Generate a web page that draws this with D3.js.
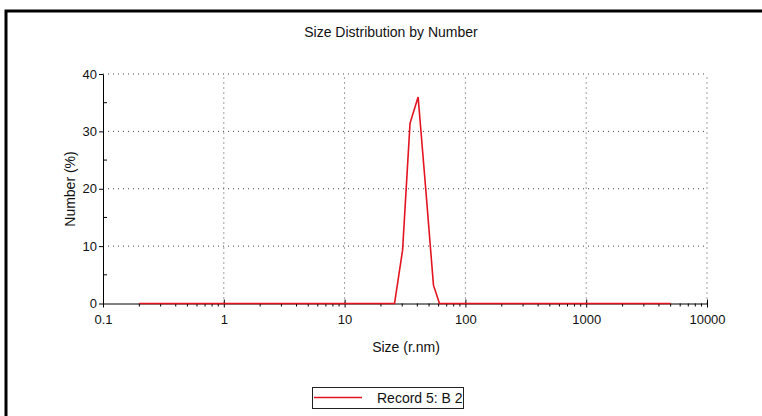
<!DOCTYPE html>
<html>
<head>
<meta charset="utf-8">
<script src="https://cdn.jsdelivr.net/npm/d3@7/dist/d3.min.js"></script>
<style>
  html, body { margin: 0; padding: 0; background: #fff; }
  svg { display: block; }
  text { font-family: "Liberation Sans", Arial, sans-serif; fill: #111; }
</style>
</head>
<body>
<svg id="chart" width="762" height="416"></svg>
<script>
// ---- data ----
const titleText = "Size Distribution by Number";
const xLabelText = "Size (r.nm)";
const yLabelText = "Number (%)";
const seriesName = "Record 5: B 2";
const sizes   = [0.2, 25.9, 30.2, 34.8, 40.6, 47.1, 54.4, 61.0, 5000];
const numbers = [0,   0,    9.3,  31.4, 36.0, 19.6, 3.2,  0,    0];
const xTickValues = [0.1, 1, 10, 100, 1000, 10000];
const xTickLabels = ["0.1", "1", "10", "100", "1000", "10000"];
const yTickValues = [0, 10, 20, 30, 40];
const yMinorTicks = [5, 15, 25, 35];

// ---- layout ----
const svg = d3.select("#chart");
const x = d3.scaleLog().domain([0.1, 10000]).range([103, 707]);
const y = d3.scaleLinear().domain([0, 40]).range([303.5, 74]);

// outer frame (left + top)
svg.append("path")
  .attr("d", "M6,416 L6,11 L762,11")
  .attr("fill", "none").attr("stroke", "#000").attr("stroke-width", 3);

// title
svg.append("text").attr("x", 391).attr("y", 37).attr("text-anchor", "middle")
  .style("font-size", "14px").text(titleText);

// grid
const gridColor = "#444";
const g = svg.append("g");
g.selectAll(".vg").data(xTickValues.slice(1)).enter().append("line")
  .attr("x1", d => x(d)).attr("x2", d => x(d))
  .attr("y1", y(0)).attr("y2", y(40))
  .attr("stroke", gridColor).attr("stroke-width", 1).attr("stroke-dasharray", "1,4");
g.selectAll(".hg").data(yTickValues.slice(1)).enter().append("line")
  .attr("x1", x(0.1)).attr("x2", x(10000))
  .attr("y1", d => y(d)).attr("y2", d => y(d))
  .attr("stroke", gridColor).attr("stroke-width", 1).attr("stroke-dasharray", "1,4");

// x axis
const xMinor = [];
for (let e = -1; e < 4; e++) for (let m = 2; m <= 9; m++) xMinor.push(m * Math.pow(10, e));
const xAxisG = svg.append("g").attr("transform", `translate(0,${y(0)})`);
xAxisG.call(d3.axisBottom(x).tickValues(xTickValues).tickFormat((d, i) => xTickLabels[i]).tickSize(4).tickSizeOuter(0));
xAxisG.select(".domain").attr("stroke", "#000");
xAxisG.selectAll(".tick line").attr("y1", -4).attr("y2", 4).attr("stroke", "#000");
xAxisG.selectAll(".tick text").attr("y", 11).attr("dy", "0.71em")
  .style("font-size", "13px").style("font-family", "Liberation Sans, Arial, sans-serif").attr("fill", "#111");
xAxisG.selectAll(".xminor").data(xMinor).enter().append("line")
  .attr("x1", d => x(d)).attr("x2", d => x(d)).attr("y1", 0).attr("y2", 3)
  .attr("stroke", "#000");

// y axis
const yAxisG = svg.append("g").attr("transform", `translate(${x(0.1)},0)`);
yAxisG.call(d3.axisLeft(y).tickValues(yTickValues).tickSize(4).tickSizeOuter(0));
yAxisG.select(".domain").attr("stroke", "#000");
yAxisG.selectAll(".tick line").attr("stroke", "#000");
yAxisG.selectAll(".tick text").attr("x", -6)
  .style("font-size", "13px").style("font-family", "Liberation Sans, Arial, sans-serif").attr("fill", "#111");
yAxisG.selectAll(".yminor").data(yMinorTicks).enter().append("line")
  .attr("x1", 0).attr("x2", 4).attr("y1", d => y(d)).attr("y2", d => y(d))
  .attr("stroke", "#000");

// axis labels
svg.append("text").attr("x", 406).attr("y", 352).attr("text-anchor", "middle")
  .style("font-size", "14px").text(xLabelText);
svg.append("text").attr("transform", `translate(75,189) rotate(-90)`).attr("text-anchor", "middle")
  .style("font-size", "14px").text(yLabelText);

// series line
const line = d3.line().x((d, i) => x(sizes[i])).y((d, i) => y(numbers[i]));
svg.append("path").datum(numbers)
  .attr("d", line)
  .attr("fill", "none").attr("stroke", "#e3141f").attr("stroke-width", 1.6)
  .attr("stroke-linejoin", "miter");

// legend
const lg = svg.append("g");
lg.append("rect").attr("x", 312.5).attr("y", 387.5).attr("width", 151).attr("height", 21)
  .attr("fill", "#fff").attr("stroke", "#222").attr("stroke-width", 1);
lg.append("line").attr("x1", 314).attr("x2", 362).attr("y1", 397.5).attr("y2", 397.5)
  .attr("stroke", "#e3141f").attr("stroke-width", 1.6);
lg.append("text").attr("x", 377).attr("y", 403).style("font-size", "14px").text(seriesName);
</script>
</body>
</html>
